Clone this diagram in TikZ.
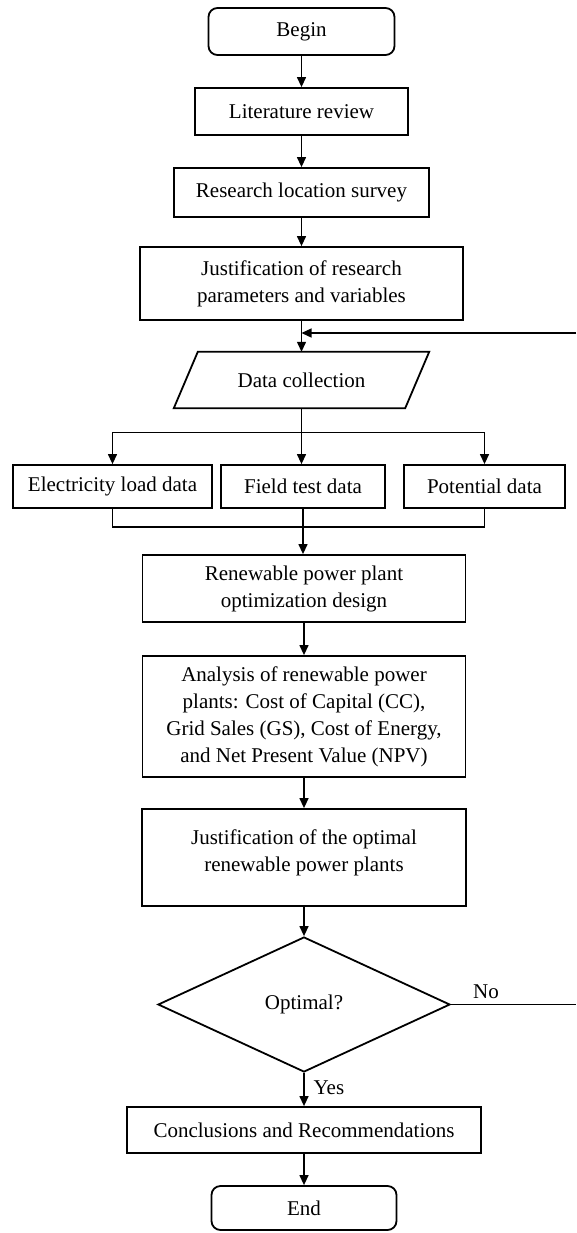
\documentclass[tikz,border=0pt]{standalone}
\usepackage{fontspec}
\setmainfont{Liberation Serif}
\usetikzlibrary{arrows.meta,shapes.geometric}
\begin{document}
\begin{tikzpicture}[x=1pt,y=-1pt,
  every node/.style={font=\fontsize{21}{27}\selectfont, inner sep=0pt},
  box/.style={draw, line width=1.8pt, align=center},
  term/.style={box, rounded corners=9pt},
  arr/.style={line width=1.3pt, -{Triangle[length=10pt,width=9pt]}},
  ln/.style={line width=1.3pt}]
\useasboundingbox (0,0) rectangle (576,1233);

\node[term, minimum width=186pt, minimum height=47pt] (begin) at (301.5,31.5) {Begin};
\node[box, minimum width=213pt, minimum height=47pt] (lit) at (301.5,111.5) {Literature review};
\node[box, minimum width=255pt, minimum height=49pt] (loc) at (301.5,192.5) {Research location survey};
\node[box, minimum width=323pt, minimum height=73pt] (just) at (301.5,283.5) {Justification of research\\parameters and variables};
\node[minimum width=231pt, minimum height=56pt] (dc) at (301.5,380) {Data collection};
\draw[line width=1.8pt] ([xshift=12pt]dc.north west) -- ([xshift=12pt]dc.north east)
  -- ([xshift=-12pt]dc.south east) -- ([xshift=-12pt]dc.south west) -- cycle;

\node[box, minimum width=199pt, minimum height=43pt] (ele) at (112.5,486.5) {Electricity load data};
\node[box, minimum width=163.5pt, minimum height=43pt] (fld) at (303,486.5) {Field test data};
\node[box, minimum width=161pt, minimum height=43pt] (pot) at (484.5,486.5) {Potential data};

\node[box, minimum width=323pt, minimum height=67pt] (ren) at (304,588.5) {Renewable power plant\\optimization design};
\node[box, minimum width=323pt, minimum height=121pt] (ana) at (304,716.5) {Analysis of renewable power\\plants: Cost of Capital (CC),\\Grid Sales (GS), Cost of Energy,\\and Net Present Value (NPV)};
\node[box, minimum width=324pt, minimum height=97pt] (jopt) at (304,857.5) {Justification of the optimal\\renewable power plants\\[-13pt]\mbox{}};
\node[diamond, draw, line width=1.8pt, minimum width=292pt, minimum height=135pt] (opt) at (304,1004.5) {Optimal?};
\node[box, minimum width=354pt, minimum height=46pt] (con) at (304,1130) {Conclusions and Recommendations};
\node[term, minimum width=185pt, minimum height=44pt] (fin) at (304,1208) {End};

\coordinate (loopR) at (576,333);
\coordinate (noR) at (576,1004.5);

\draw[arr] (begin.south) -- (lit.north);
\draw[arr] (lit.south) -- (loc.north);
\draw[arr] (loc.south) -- (just.north);
\draw[arr] (just.south) -- (dc.north);
\draw[arr] (loopR) -- (just.south |- loopR);

\draw[ln] (dc.south) -- ++(0,24) coordinate (split);
\draw[arr] (split) -| (ele.north);
\draw[arr] (split) -| (pot.north);
\draw[arr] (split) -- (split |- fld.north);

\draw[ln] (ele.south) -- ++(0,18) -| (pot.south);
\draw[arr] (fld.south) -- (fld.south |- ren.north);

\draw[arr] (ren.south) -- (ana.north);
\draw[arr] (ana.south) -- (jopt.north);
\draw[arr] (jopt.south) -- (opt.north);
\draw[arr] (opt.south) -- node[pos=0.45, anchor=west, xshift=9pt] {Yes} (con.north);
\draw[arr] (con.south) -- (fin.north);
\draw[ln] (opt.east) -- node[pos=0.28, anchor=south, yshift=5pt] {No} (noR);
\end{tikzpicture}
\end{document}
